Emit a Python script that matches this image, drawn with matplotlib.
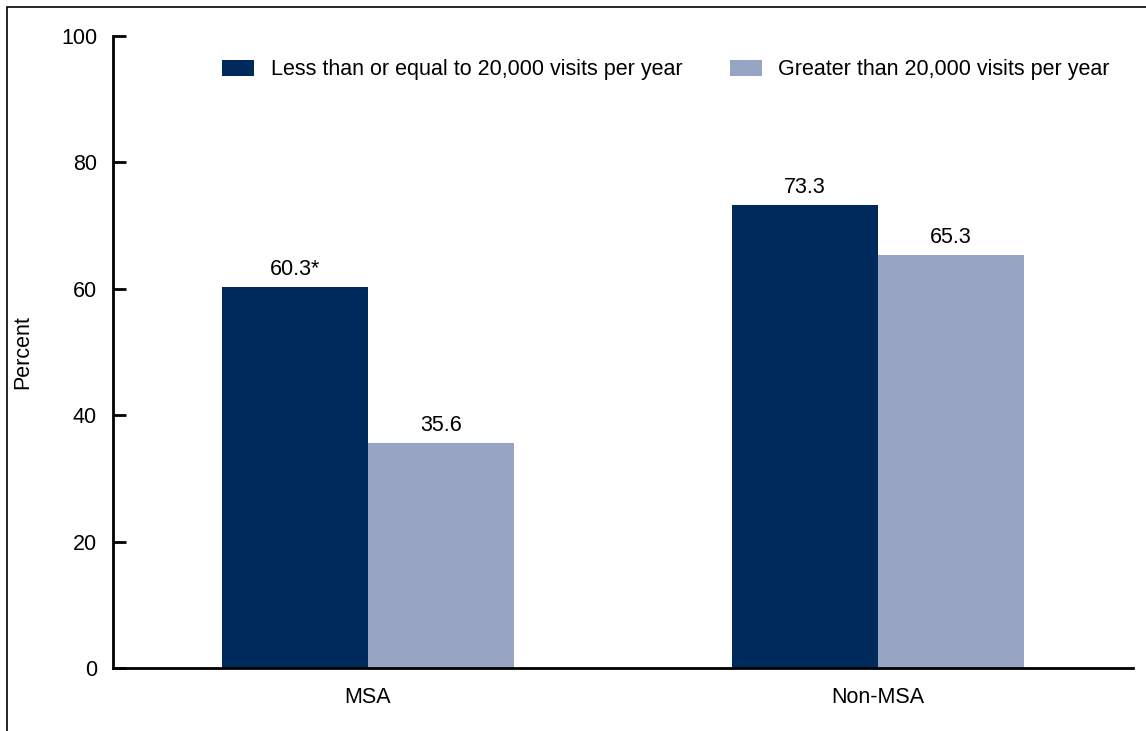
import matplotlib.pyplot as plt
import numpy as np
from matplotlib.patches import Rectangle

plt.rcParams['font.family'] = ['Liberation Sans', 'DejaVu Sans']

categories = ['MSA', 'Non-MSA']
low_visits = [60.3, 73.3]
high_visits = [35.6, 65.3]
low_labels = ['60.3*', '73.3']
high_labels = ['35.6', '65.3']
series_names = ['Less than or equal to 20,000 visits per year',
                'Greater than 20,000 visits per year']
dark = '#002a5c'
light = '#97a4c4'
fs = 15.5

fig = plt.figure(figsize=(11.46, 7.31), dpi=100)
ax = fig.add_axes([113 / 1146, 1 - 668 / 731, 1020 / 1146, 632 / 731])

# outer frame (left and top edges visible)
fig.patches.append(Rectangle((7 / 1146, -0.1), 2, 1.1 - 7 / 731,
                             transform=fig.transFigure, fill=False,
                             edgecolor='black', linewidth=1.2))

x = np.arange(len(categories))
w = 0.286
b1 = ax.bar(x - w / 2, low_visits, w, color=dark, label=series_names[0])
b2 = ax.bar(x + w / 2, high_visits, w, color=light, label=series_names[1])

for bars, labels in [(b1, low_labels), (b2, high_labels)]:
    for bar, lab in zip(bars, labels):
        ax.annotate(lab, (bar.get_x() + bar.get_width() / 2, bar.get_height()),
                    xytext=(0, 5), textcoords='offset points',
                    ha='center', va='bottom', fontsize=fs)

ax.set_xlim(-0.5, 1.5)
ax.set_ylim(0, 100)
ax.set_yticks(np.arange(0, 101, 20))
ax.set_xticks(x)
ax.set_xticklabels(categories)
ax.tick_params(axis='y', direction='in', length=9.5, width=2, labelsize=fs, pad=11.5)
ax.tick_params(axis='x', length=0, labelsize=fs, pad=14)
ax.set_ylabel('Percent', fontsize=fs)
ax.yaxis.set_label_coords(-0.078, 0.5)
for s in ['top', 'right']:
    ax.spines[s].set_visible(False)
for s in ['left', 'bottom']:
    ax.spines[s].set_linewidth(2)

ax.legend(ncol=2, loc='upper left', bbox_to_anchor=(0.107, 0.963), frameon=False,
          fontsize=fs, handlelength=1.49, handleheight=0.74, handletextpad=0.76,
          columnspacing=2.2, borderpad=0, borderaxespad=0)

fig.savefig('out.png', dpi=100)
